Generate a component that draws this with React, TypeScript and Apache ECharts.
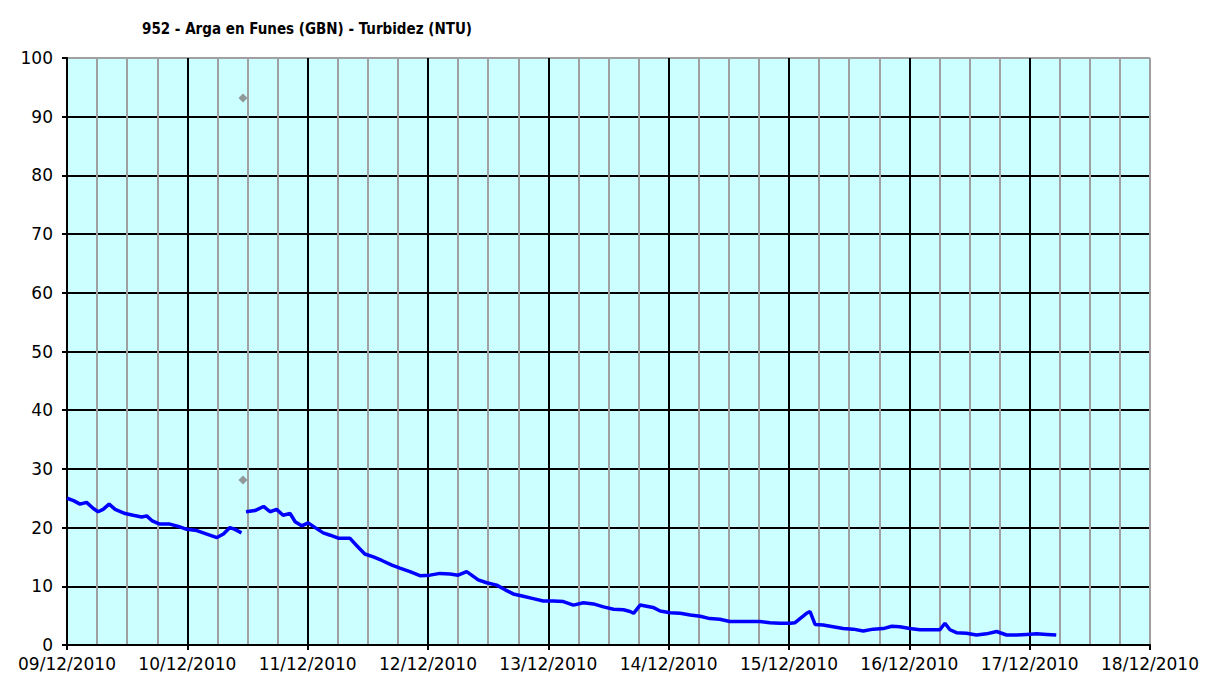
import React, { useEffect, useRef } from "react";
import * as echarts from "echarts";

const titleText = "952 - Arga en Funes (GBN) - Turbidez (NTU)";
const startDay = 9; // 09/12/2010 00:00 = hour 0
const xMaxHours = 216;

const hoursA = [0, 1.3, 2.6, 3.9, 5.2, 6.2, 7.2, 8.4, 9.6, 11.6, 13.2, 14.9, 15.9, 16.9, 18.5, 20.5, 22.2, 23.9, 25.9, 27.9, 29.9, 31.2, 32.5, 33.5, 34.8];
const valuesA = [25.0, 24.6, 24.0, 24.3, 23.3, 22.7, 23.1, 24.0, 23.1, 22.4, 22.1, 21.8, 22.0, 21.2, 20.6, 20.6, 20.2, 19.7, 19.5, 18.9, 18.3, 18.9, 20.0, 19.7, 19.1];

const hoursB = [35.7, 37.5, 39.2, 40.5, 41.8, 43.1, 44.5, 45.5, 46.8, 48.1, 49.5, 51.1, 52.5, 54.1, 56.4, 57.8, 59.4, 61.1, 62.8, 64.8, 66.4, 68.4, 70.4, 72.4, 74.4, 76.4, 78.0, 79.7, 80.7, 82.0, 83.7, 85.7, 87.4, 89.0, 91.0, 93.0, 95.0, 97.0, 99.0, 101.0, 103.0, 105.0, 107.0, 109.0, 111.0, 112.3, 113.0, 114.3, 115.6, 116.9, 118.3, 120.3, 122.3, 124.3, 126.3, 128.2, 130.2, 132.2, 134.2, 136.2, 138.2, 140.2, 142.2, 144.2, 145.2, 146.2, 147.5, 148.2, 149.2, 150.8, 152.8, 154.8, 156.8, 158.8, 160.8, 162.8, 164.5, 166.1, 168.1, 170.1, 172.1, 174.1, 175.1, 176.1, 177.4, 179.4, 181.4, 183.4, 185.4, 187.4, 189.4, 191.4, 193.4, 195.4, 197.3];
const valuesB = [22.7, 22.9, 23.6, 22.7, 23.1, 22.1, 22.4, 21.0, 20.3, 20.8, 20.0, 19.1, 18.7, 18.2, 18.2, 16.9, 15.5, 15.0, 14.4, 13.6, 13.1, 12.5, 11.8, 11.9, 12.2, 12.1, 11.9, 12.5, 11.9, 11.1, 10.6, 10.2, 9.4, 8.7, 8.3, 7.9, 7.5, 7.5, 7.4, 6.8, 7.2, 7.0, 6.5, 6.1, 6.0, 5.7, 5.4, 6.8, 6.6, 6.4, 5.8, 5.5, 5.4, 5.1, 4.9, 4.5, 4.4, 4.0, 4.0, 4.0, 4.0, 3.8, 3.7, 3.7, 3.8, 4.5, 5.4, 5.7, 3.5, 3.4, 3.1, 2.8, 2.7, 2.4, 2.7, 2.8, 3.2, 3.1, 2.8, 2.6, 2.6, 2.6, 3.7, 2.6, 2.1, 2.0, 1.7, 1.9, 2.3, 1.7, 1.7, 1.8, 1.9, 1.8, 1.7];

const outlierHours = [35.1, 35.1];
const outlierValues = [93.2, 28.1];

const FONT = "DejaVu Sans";

function dayLabel(h: number): string {
  const d = startDay + Math.round(h / 24);
  return (d < 10 ? "0" + d : "" + d) + "/12/2010";
}

export default function App() {
  const ref = useRef<HTMLDivElement>(null);
  useEffect(() => {
    document.body.style.margin = "0";
    if (!ref.current) return;
    const chart = echarts.init(ref.current, null, { renderer: "svg" });
    const lineData: (number | null)[][] = [];
    hoursA.forEach((h, i) => lineData.push([h, valuesA[i]]));
    lineData.push([35.2, null as any]);
    hoursB.forEach((h, i) => lineData.push([h, valuesB[i]]));
    const scatterData = outlierHours.map((h, i) => [h, outlierValues[i]]);

    const xSplitColors = ["#000", "#000", "#000", "#000", "#000", "#000", "#000", "#000", "#000", "#A0A0A0"];
    const ySplitColors = ["#000", "#000", "#000", "#000", "#000", "#000", "#000", "#000", "#000", "#000", "#A0A0A0"];

    chart.setOption({
      animation: false,
      backgroundColor: "#ffffff",
      title: {
        text: titleText,
        left: 142,
        top: 21,
        padding: 0,
        textStyle: { fontFamily: "DejaVu Sans Condensed", fontSize: 15, fontWeight: "bold", color: "#000" },
      },
      grid: {
        left: 67,
        right: 56,
        top: 58,
        bottom: 32,
        show: true,
        backgroundColor: "#CCFFFF",
        borderColor: "#A0A0A0",
        borderWidth: 1,
      },
      xAxis: {
        type: "value",
        min: 0,
        max: xMaxHours,
        interval: 24,
        axisLine: { show: true, lineStyle: { color: "#000", width: 2 } },
        axisTick: { show: true, length: 5, lineStyle: { color: "#000", width: 2 } },
        axisLabel: {
          formatter: (v: number) => dayLabel(v),
          fontFamily: FONT,
          fontSize: 17,
          color: "#000",
          margin: 10,
          showMinLabel: true,
          showMaxLabel: true,
        },
        splitLine: { show: true, lineStyle: { color: xSplitColors, width: 2 } },
        minorTick: { show: false, splitNumber: 4 },
        minorSplitLine: { show: true, lineStyle: { color: "#A0A0A0", width: 2 } },
      },
      yAxis: {
        type: "value",
        min: 0,
        max: 100,
        interval: 10,
        axisLine: { show: true, lineStyle: { color: "#000", width: 2 } },
        axisTick: { show: true, length: 5, lineStyle: { color: "#000", width: 2 } },
        axisLabel: { fontFamily: FONT, fontSize: 17, color: "#000", margin: 14 },
        splitLine: { show: true, lineStyle: { color: ySplitColors, width: 2 } },
      },
      series: [
        {
          type: "line",
          data: lineData,
          showSymbol: false,
          connectNulls: false,
          lineStyle: { color: "#0000FF", width: 3.5 },
          itemStyle: { color: "#0000FF" },
          z: 3,
        },
        {
          type: "scatter",
          data: scatterData,
          symbol: "diamond",
          symbolSize: 9,
          itemStyle: { color: "#808080" },
          z: 4,
        },
      ],
    });
    return () => chart.dispose();
  }, []);
  return <div ref={ref} style={{ position: "fixed", left: 0, top: 0, width: 1206, height: 677 }} />;
}
